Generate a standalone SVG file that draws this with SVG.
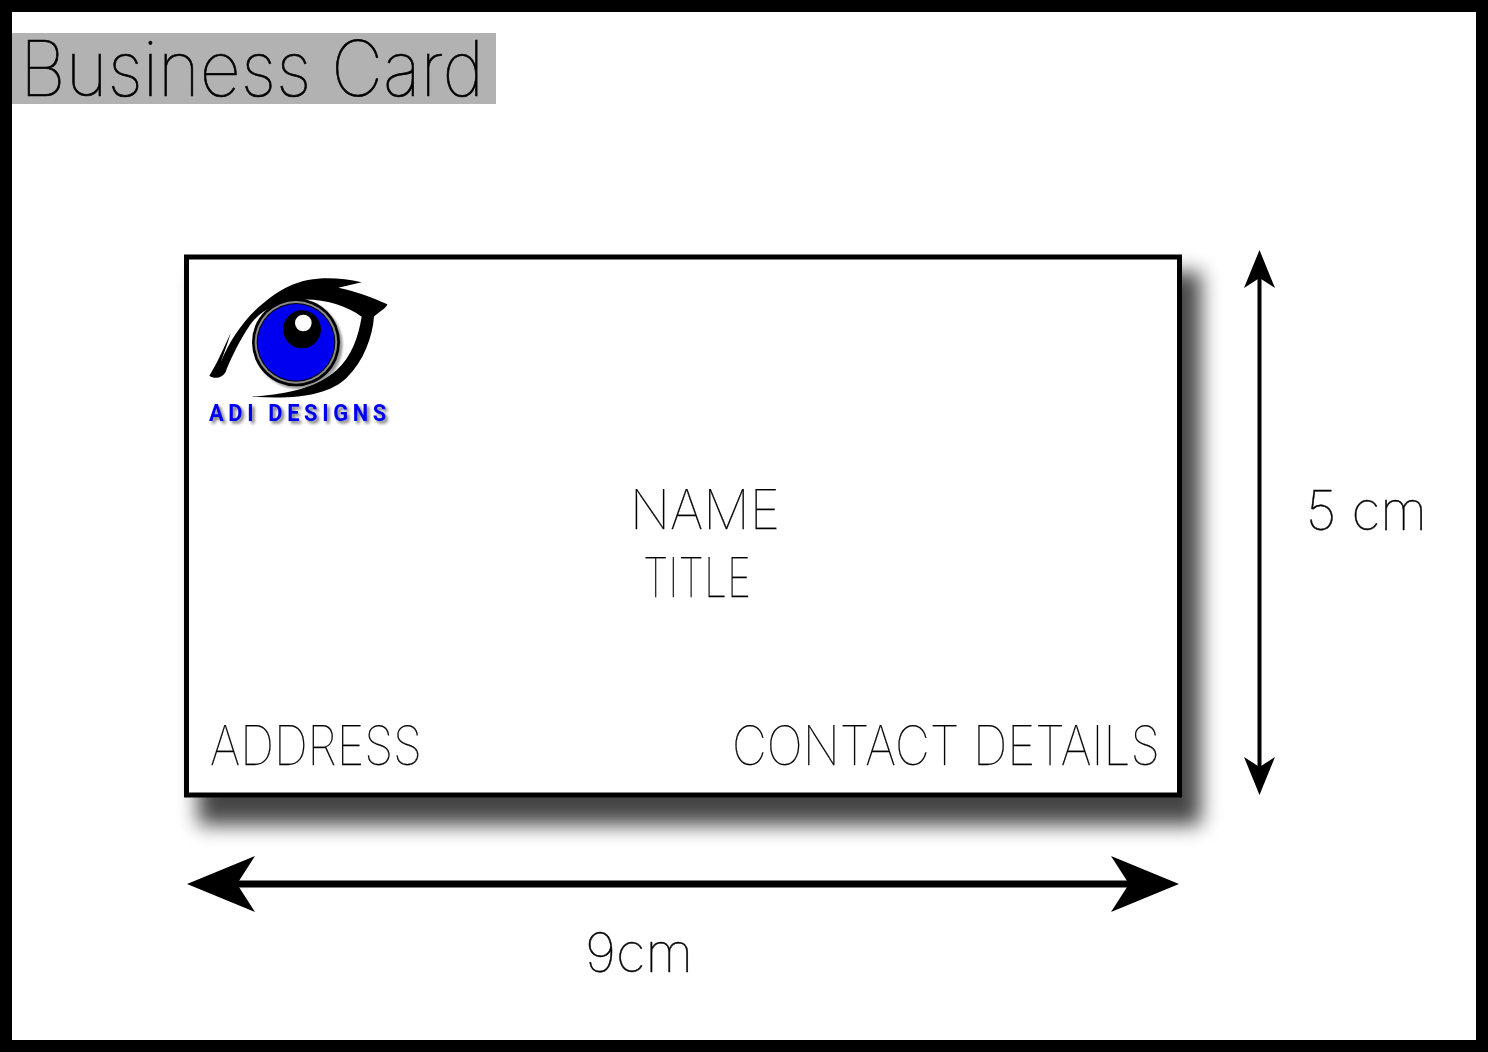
<svg xmlns="http://www.w3.org/2000/svg" width="1488" height="1052" viewBox="0 0 1488 1052">
<style>
.t{font-family:"Inter","Lato","Liberation Sans",sans-serif;font-weight:100;fill:#000;stroke:#000;stroke-width:.25;opacity:.999}
.c{fill:none;stroke:#000;stroke-linecap:butt}
.logo{font-family:"Roboto","Liberation Sans",sans-serif;font-weight:700;font-size:23px;fill:#0000f0}
</style>
<defs>
<filter id="b" x="-10%" y="-10%" width="120%" height="120%"><feGaussianBlur stdDeviation="10"/></filter>
<filter id="b2" x="-20%" y="-20%" width="140%" height="140%"><feGaussianBlur stdDeviation="3"/></filter>
<filter id="ds" x="-10%" y="-30%" width="120%" height="170%"><feDropShadow dx="2.500" dy="2.500" stdDeviation="1.500" flood-color="#000" flood-opacity=".55"/></filter>
</defs>
<rect width="1488" height="1052" fill="#fff"/>
<g id="frame"><rect x="6" y="6" width="1476" height="1040" fill="none" stroke="#000" stroke-width="12"/></g>
<g id="title"><rect x="12" y="33" width="484" height="71" fill="#b2b2b2"/>
<text class="t" x="20" y="96" font-size="77" textLength="464" lengthAdjust="spacingAndGlyphs" style="stroke-width:.7">Business Card</text></g>
<g id="card">
<rect x="198" y="272" width="1003" height="553" fill="#000" opacity=".72" filter="url(#b)"/>
<rect x="186.500" y="257" width="993" height="538" fill="#fff" stroke="#000" stroke-width="5"/>
<text class="t" x="630" y="529" font-size="54" textLength="150" lengthAdjust="spacingAndGlyphs">NAME</text>
<text class="t" x="643" y="597" font-size="54" textLength="108" lengthAdjust="spacingAndGlyphs">TITLE</text>
<text class="t" x="210" y="765" font-size="54" textLength="212" lengthAdjust="spacingAndGlyphs">ADDRESS</text>
<text class="t" x="732" y="765" font-size="54" textLength="428" lengthAdjust="spacingAndGlyphs">CONTACT DETAILS</text>
</g>
<g id="logo">
<g transform="translate(190 265) scale(.3333)">
<path d="M58 332C80 300 100 250 122 205C108 250 100 270 92 292C130 200 200 110 300 62C360 34 440 34 515 52L445 68C500 80 550 98 592 118C590 130 565 142 552 155C548 215 520 290 470 338C420 388 320 405 185 395C300 388 385 365 440 315C485 275 505 215 515 155C470 122 400 102 340 104C270 108 215 130 180 180C150 225 128 270 110 312C105 338 75 345 58 332Z" fill="#000"/>
<circle cx="326" cy="240" r="132" fill="#000" opacity=".4" filter="url(#b2)"/>
<circle cx="318" cy="232" r="132" fill="#000"/>
<circle cx="318" cy="232" r="124" fill="#8a8a8a"/>
<circle cx="318" cy="232" r="118" fill="#000"/>
<circle cx="318" cy="232" r="115" fill="#0000f0"/>
<circle cx="336" cy="193" r="57" fill="#000"/>
<circle cx="340" cy="174" r="25" fill="#fff"/>
</g>
<text class="logo" transform="translate(209 421) scale(.95 1)" letter-spacing="4.900" filter="url(#ds)">ADI DESIGNS</text>
</g>
<g id="connectors">
<path class="c" d="M235 884H1130" stroke-width="7"/>
<path d="M187 884L255 856L237 884L255 912Z"/>
<path d="M1179 884L1111 856L1129 884L1111 912Z"/>
<path class="c" d="M1259.500 275V775" stroke-width="4"/>
<path d="M1259.500 250L1275 288L1259.500 278L1244 288Z"/>
<path d="M1259.500 795L1275 757L1259.500 767L1244 757Z"/>
</g>
<g id="labels">
<text class="t" x="1306" y="530" font-size="54" textLength="121" lengthAdjust="spacingAndGlyphs" style="stroke-width:.5">5 cm</text>
<text class="t" x="585" y="972" font-size="54" textLength="108" lengthAdjust="spacingAndGlyphs" style="stroke-width:.5">9cm</text>
</g>
</svg>
